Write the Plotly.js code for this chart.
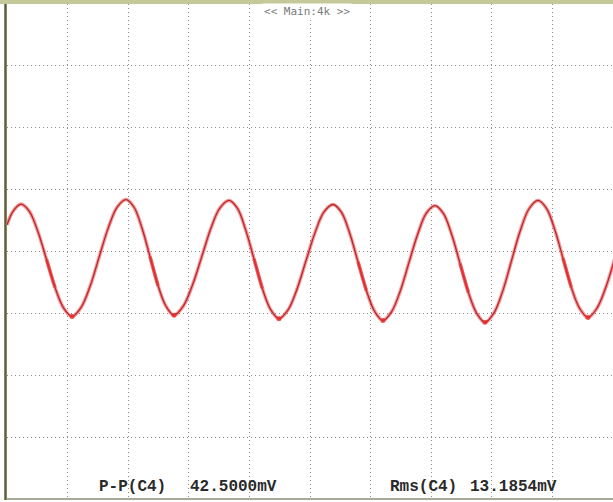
<!DOCTYPE html>
<html>
<head>
<meta charset="utf-8">
<script src="https://cdn.plot.ly/plotly-3.0.1.min.js"></script>
<style>html,body{margin:0;padding:0;background:#fff;}#chart{width:613px;height:502px;}</style>
</head>
<body>
<div id="chart"></div>
<script>
// Time in horizontal divisions (10 div full screen), voltage in mV (20 mV/div, 8 div)
const timeDiv = [
  0.000, 0.100, 0.231, 0.371, 0.512, 0.652, 0.792, 0.932, 1.073,
  1.222, 1.370, 1.519, 1.667, 1.816, 1.964,
  2.096, 2.228, 2.360, 2.492, 2.624, 2.756,
  2.907, 3.058, 3.210, 3.361, 3.512, 3.663,
  3.801, 3.938, 4.076, 4.213, 4.351, 4.488,
  4.637, 4.785, 4.934, 5.083, 5.231, 5.380,
  5.518, 5.655, 5.793, 5.930, 6.068, 6.205,
  6.348, 6.491, 6.634, 6.777, 6.920, 7.063,
  7.201, 7.338, 7.476, 7.613, 7.751, 7.888,
  8.034, 8.180, 8.325, 8.471, 8.617, 8.762,
  8.900, 9.037, 9.175, 9.312, 9.450, 9.587,
  9.733, 9.879, 10.025
];
const voltage_mV = [
  8.6, 13.0, 15.3, 12.9, 6.3, -2.6, -11.6, -18.2, -21.0,
  -18.1, -11.3, -1.9, 7.4, 14.3, 16.8,
  14.3, 7.5, -1.7, -11.0, -17.7, -20.6,
  -17.7, -11.0, -1.9, 7.3, 14.0, 16.5,
  14.0, 7.0, -2.4, -11.9, -18.8, -21.7,
  -18.9, -12.2, -3.0, 6.1, 12.8, 15.2,
  12.7, 5.9, -3.4, -12.6, -19.4, -22.3,
  -19.4, -12.7, -3.5, 5.6, 12.4, 14.8,
  12.3, 5.5, -3.9, -13.2, -20.0, -22.9,
  -19.9, -12.8, -3.0, 6.8, 13.9, 16.5,
  14.0, 7.2, -2.2, -11.6, -18.4, -21.3,
  -18.4, -11.7, -2.5
];
// sample indices where the trace shows noise bursts (falling edges) and trough spikes
const burstStart = [5, 17, 29, 41, 53, 65];
const troughIdx = [8, 20, 32, 44, 56, 68];
const topLabel = "<< Main:4k >>";
const measNames = ["P-P(C4)", "Rms(C4)"];
const measValues = ["42.5000mV", "13.1854mV"];

const halo = {
  x: timeDiv, y: voltage_mV, type: 'scatter', mode: 'lines',
  line: {color: 'rgba(235,70,70,0.55)', width: 3.6, shape: 'spline', smoothing: 1},
  hoverinfo: 'skip', showlegend: false
};
const core = {
  x: timeDiv, y: voltage_mV, type: 'scatter', mode: 'lines',
  line: {color: 'rgb(185,40,45)', width: 1.3, shape: 'spline', smoothing: 1},
  showlegend: false
};
const bx = [], by = [];
burstStart.forEach(i => { bx.push(timeDiv[i], timeDiv[i+1], null); by.push(voltage_mV[i], voltage_mV[i+1], null); });
const burst = {
  x: bx, y: by, type: 'scatter', mode: 'lines', connectgaps: false,
  line: {color: 'rgba(232,45,45,0.7)', width: 3.2}, showlegend: false
};
const troughs = {
  x: troughIdx.map(i => timeDiv[i]), y: troughIdx.map(i => voltage_mV[i]),
  type: 'scatter', mode: 'markers',
  marker: {color: 'rgba(230,40,40,0.75)', size: 5}, showlegend: false
};

const pw = 606, ph = 495;
const gridAxis = {
  showgrid: true, gridcolor: '#8c8c8c', gridwidth: 1, griddash: '1px,3px',
  zeroline: false, showline: false, ticks: '', showticklabels: false, fixedrange: true
};
const measFont = {family: 'Liberation Mono', size: 16, color: '#2a2a2a', weight: 'bold'};
const yMeas = (499 - 487) / ph;
const layout = {
  width: 613, height: 502,
  margin: {l: 7, r: 0, t: 4, b: 3, pad: 0},
  paper_bgcolor: '#ffffff', plot_bgcolor: '#ffffff',
  xaxis: Object.assign({range: [0, 10], dtick: 1, tick0: 0}, gridAxis),
  yaxis: Object.assign({range: [-80, 80], dtick: 20, tick0: -80}, gridAxis),
  shapes: [
    {type: 'rect', xref: 'paper', yref: 'paper', x0: -7/pw, x1: 1, y0: 1, y1: 1 + 4/ph,
     fillcolor: '#c5c99a', line: {width: 0}, layer: 'above'},
    {type: 'line', xref: 'paper', yref: 'paper', x0: -1.5/pw, x1: -1.5/pw, y0: -1/ph, y1: 1,
     line: {color: '#5e5e34', width: 2.5}, layer: 'above'},
    {type: 'line', xref: 'paper', yref: 'paper', x0: 0, x1: 1, y0: 0, y1: 0,
     line: {color: '#8a8a7a', width: 1.5}, layer: 'above'}
  ],
  annotations: [
    {text: topLabel, xref: 'paper', yref: 'paper', x: (307-7)/pw, y: 1 - (12-4)/ph,
     xanchor: 'center', yanchor: 'middle', showarrow: false,
     font: {family: 'DejaVu Sans Mono', size: 11, color: '#7a7a7a'}, bgcolor: '#ffffff'},
    {text: measNames[0], xref: 'paper', yref: 'paper', x: (132-7)/pw, y: yMeas,
     xanchor: 'center', yanchor: 'middle', showarrow: false, font: measFont},
    {text: measValues[0], xref: 'paper', yref: 'paper', x: (233-7)/pw, y: yMeas,
     xanchor: 'center', yanchor: 'middle', showarrow: false, font: measFont},
    {text: measNames[1], xref: 'paper', yref: 'paper', x: (423-7)/pw, y: yMeas,
     xanchor: 'center', yanchor: 'middle', showarrow: false, font: measFont},
    {text: measValues[1], xref: 'paper', yref: 'paper', x: (513-7)/pw, y: yMeas,
     xanchor: 'center', yanchor: 'middle', showarrow: false, font: measFont}
  ]
};
Plotly.newPlot('chart', [halo, core, burst, troughs], layout, {displayModeBar: false, staticPlot: true});
</script>
</body>
</html>
